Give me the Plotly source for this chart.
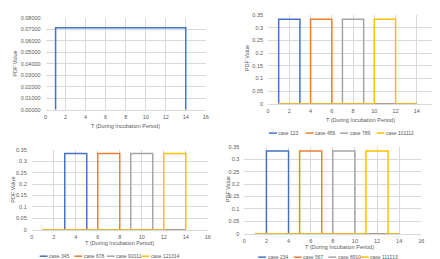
import plotly.graph_objects as go

# ---------------- data ----------------
# Panel 1: single uniform pdf
p1_name = "case 1-14"
p1_t = [1, 1, 14, 14]
p1_pdf = [0, 0.0714, 0.0714, 0]

# Panel 2
p2_names = ["case 123", "case 456", "case 789", "case 101112"]
p2_t = [
    [1, 1, 3, 3, 14],
    [1, 4, 4, 6, 6, 14],
    [1, 7, 7, 9, 9, 14],
    [1, 10, 10, 12, 12, 14],
]
p2_pdf = [
    [0, 0.3333, 0.3333, 0, 0],
    [0, 0, 0.3333, 0.3333, 0, 0],
    [0, 0, 0.3333, 0.3333, 0, 0],
    [0, 0, 0.3333, 0.3333, 0, 0],
]

# Panel 3
p3_names = ["case 345", "case 678", "case 91011", "case 121314"]
p3_t = [
    [1, 3, 3, 5, 5, 14],
    [1, 6, 6, 8, 8, 14],
    [1, 9, 9, 11, 11, 14],
    [1, 12, 12, 14, 14],
]
p3_pdf = [
    [0, 0, 0.3333, 0.3333, 0, 0],
    [0, 0, 0.3333, 0.3333, 0, 0],
    [0, 0, 0.3333, 0.3333, 0, 0],
    [0, 0, 0.3333, 0.3333, 0],
]

# Panel 4
p4_names = ["case 234", "case 567", "case 8910", "case 111213"]
p4_t = [
    [1, 2, 2, 4, 4, 14],
    [1, 5, 5, 7, 7, 14],
    [1, 8, 8, 10, 10, 14],
    [1, 11, 11, 13, 13, 14],
]
p4_pdf = [
    [0, 0, 0.3333, 0.3333, 0, 0],
    [0, 0, 0.3333, 0.3333, 0, 0],
    [0, 0, 0.3333, 0.3333, 0, 0],
    [0, 0, 0.3333, 0.3333, 0, 0],
]

x_title = "T (During Incubation Period)"
y_title = "PDF Value"

# ---------------- style ----------------
W, H = 440, 259
COLORS = ["#4472C4", "#ED7D31", "#A5A5A5", "#FFC000"]
TXT = "#595959"
GRID = "#D9D9D9"
FONT = "Liberation Sans"
FS = 5.5
LFS = 5
LW = 1.5


def px_x(p):
    return p / W


def px_y(p):
    return 1 - p / H


fig = go.Figure()

# domains in pixels: (x0, x1, ytop, ybottom)
panels = [
    (36, 198, 7, 101),
    (261, 433, 4, 95),
    (22, 200, 142, 224),
    (237, 416, 139, 228),
]

for i, (x0, x1, yt, yb) in enumerate(panels):
    n = "" if i == 0 else str(i + 1)
    xa = dict(
        domain=[px_x(x0), px_x(x1)], range=[0, 16], dtick=2, tick0=0,
        showgrid=True, gridcolor=GRID, gridwidth=1, zeroline=False,
        showline=True, linecolor=GRID, linewidth=1,
        tickfont=dict(family=FONT, size=FS, color=TXT), ticks="",
        anchor="y" + n, fixedrange=True, ticklabelstandoff=2,
    )
    ya = dict(
        domain=[px_y(yb), px_y(yt)], showgrid=True, gridcolor=GRID, gridwidth=1,
        zeroline=False, showline=False,
        tickfont=dict(family=FONT, size=FS, color=TXT), ticks="",
        anchor="x" + n, fixedrange=True, ticklabelstandoff=4,
    )
    if i == 0:
        ya.update(range=[0, 0.08], dtick=0.01, tick0=0, tickformat=".5f")
    else:
        ya.update(range=[0, 0.35], dtick=0.05, tick0=0)
    fig.layout["xaxis" + n] = xa
    fig.layout["yaxis" + n] = ya

# traces
fig.add_trace(go.Scatter(x=p1_t, y=p1_pdf, mode="lines", name=p1_name,
                         line=dict(color=COLORS[0], width=LW),
                         xaxis="x", yaxis="y", showlegend=False))

for k, (names, ts, pdfs) in enumerate([(p2_names, p2_t, p2_pdf),
                                       (p3_names, p3_t, p3_pdf),
                                       (p4_names, p4_t, p4_pdf)]):
    n = str(k + 2)
    for j, (nm, t, p) in enumerate(zip(names, ts, pdfs)):
        fig.add_trace(go.Scatter(x=t, y=p, mode="lines", name=nm,
                                 line=dict(color=COLORS[j], width=LW),
                                 xaxis="x" + n, yaxis="y" + n, showlegend=False))

annotations = []
shapes = []

# axis titles (pixel positions)
xt_pos = [(117, 118), (355, 112), (111, 238), (333, 242)]
yt_pos = [(5, 54), (240, 48), (3, 183), (220, 183)]
for (xx, yy) in xt_pos:
    annotations.append(dict(x=px_x(xx), y=px_y(yy), xref="paper", yref="paper",
                            text=x_title, showarrow=False,
                            font=dict(family=FONT, size=FS, color=TXT),
                            xanchor="center", yanchor="middle"))
for (xx, yy) in yt_pos:
    annotations.append(dict(x=px_x(xx), y=px_y(yy), xref="paper", yref="paper",
                            text=y_title, showarrow=False, textangle=-90,
                            font=dict(family=FONT, size=FS, color=TXT),
                            xanchor="center", yanchor="middle"))

# legends (manual, compact Excel-like)
legend_rows = [
    (p2_names, [262, 299, 334, 371], 125),
    (p3_names, [30, 65, 98, 133], 251),
    (p4_names, [251, 287, 322, 355], 252),
]
for names, xs, yy in legend_rows:
    for j, (nm, xs0) in enumerate(zip(names, xs)):
        shapes.append(dict(type="line", xref="paper", yref="paper",
                           x0=px_x(xs0), x1=px_x(xs0 + 8), y0=px_y(yy), y1=px_y(yy),
                           line=dict(color=COLORS[j], width=LW)))
        annotations.append(dict(x=px_x(xs0 + 8.5), y=px_y(yy), xref="paper", yref="paper",
                                text=nm, showarrow=False, borderpad=0,
                                font=dict(family=FONT, size=LFS, color=TXT),
                                xanchor="left", yanchor="middle"))

fig.update_layout(
    width=W, height=H,
    margin=dict(l=0, r=0, t=0, b=0),
    paper_bgcolor="white", plot_bgcolor="white",
    annotations=annotations, shapes=shapes,
    showlegend=False,
)

fig.write_html("out.html")
